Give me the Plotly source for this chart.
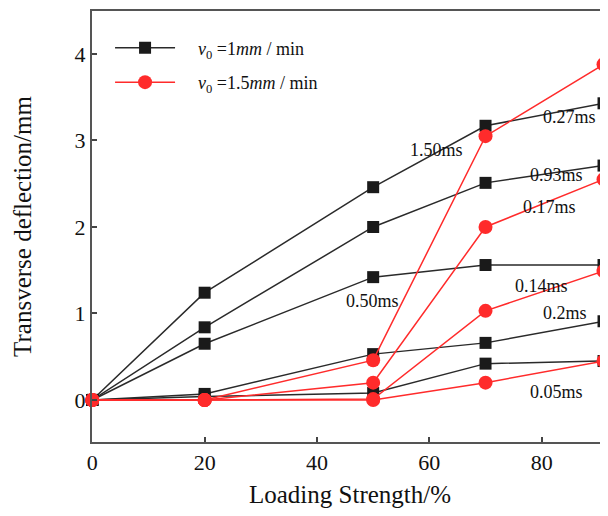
import plotly.graph_objects as go

loading = [0, 20, 50, 70, 91]

black_series = {
    "b1": [0, 1.24, 2.46, 3.17, 3.43],
    "b2": [0, 0.84, 2.00, 2.51, 2.71],
    "b3": [0, 0.65, 1.42, 1.56, 1.56],
    "b4": [0, 0.07, 0.53, 0.66, 0.91],
    "b5": [0, 0.04, 0.08, 0.42, 0.45],
}
red_series = {
    "r1": [0, 0, 0.46, 3.05, 3.88],
    "r2": [0, 0, 0.20, 2.00, 2.55],
    "r3": [0, 0, 0.01, 1.03, 1.49],
    "r4": [0, 0, 0.00, 0.20, 0.45],
}

label_text = ["1.50ms", "0.27ms", "0.93ms", "0.17ms", "0.50ms", "0.14ms", "0.2ms", "0.05ms"]
label_x = [61.3, 85.0, 82.6, 81.3, 49.8, 80.0, 84.1, 82.7]
label_y = [2.89, 3.27, 2.60, 2.23, 1.15, 1.32, 1.01, 0.09]

FONT = "Liberation Serif"
BLACK = "#1a1a1a"
RED = "#ff2b2b"

fig = go.Figure()
for i, (k, v) in enumerate(black_series.items()):
    fig.add_trace(go.Scatter(
        x=loading, y=v, mode="lines+markers", cliponaxis=False,
        line=dict(color="#2a2a2a", width=1.5),
        marker=dict(symbol="square", size=12, color=BLACK),
        name="&nbsp;&nbsp;&nbsp;&nbsp;<i>v</i><sub>0</sub> =1<i>mm</i> / min",
        legendgroup="black", showlegend=(i == 0),
    ))
for i, (k, v) in enumerate(red_series.items()):
    fig.add_trace(go.Scatter(
        x=loading, y=v, mode="lines+markers", cliponaxis=False,
        line=dict(color=RED, width=1.5),
        marker=dict(symbol="circle", size=14, color=RED),
        name="&nbsp;&nbsp;&nbsp;&nbsp;<i>v</i><sub>0</sub> =1.5<i>mm</i> / min",
        legendgroup="red", showlegend=(i == 0),
    ))

for t, x, y in zip(label_text, label_x, label_y):
    fig.add_annotation(x=x, y=y, text=t, showarrow=False,
                       font=dict(family=FONT, size=18, color="#111"))

fig.update_layout(
    width=600, height=500,
    margin=dict(l=84, r=0, t=3, b=66),
    paper_bgcolor="white", plot_bgcolor="white",
    font=dict(family=FONT, color="#111"),
    showlegend=True,
    legend=dict(x=0.035, y=0.957, xanchor="left", yanchor="top",
                bgcolor="rgba(0,0,0,0)", font=dict(family=FONT, size=18),
                itemwidth=60, tracegroupgap=8),
)
fig.update_xaxes(
    range=[-0.05, 91.8], tickvals=[0, 20, 40, 60, 80],
    ticks="inside", ticklen=5, tickwidth=1.5, tickcolor="#444",
    showline=True, linecolor="#555", linewidth=2, mirror=True,
    showgrid=False, zeroline=False, automargin=False,
    tickfont=dict(family=FONT, size=22, color="#111"),
    title=dict(text="Loading Strength/%", font=dict(family=FONT, size=25, color="#111"), standoff=13),
)
fig.update_yaxes(
    range=[-0.486, 4.497], tickvals=[0, 1, 2, 3, 4],
    ticks="inside", ticklen=5, tickwidth=1.5, tickcolor="#444",
    showline=True, linecolor="#555", linewidth=2, mirror=False,
    showgrid=False, zeroline=False, automargin=False,
    tickfont=dict(family=FONT, size=22, color="#111"),
    title=dict(text="Transverse deflection/mm", font=dict(family=FONT, size=25, color="#111"), standoff=36),
)

fig.write_html("out.html")
